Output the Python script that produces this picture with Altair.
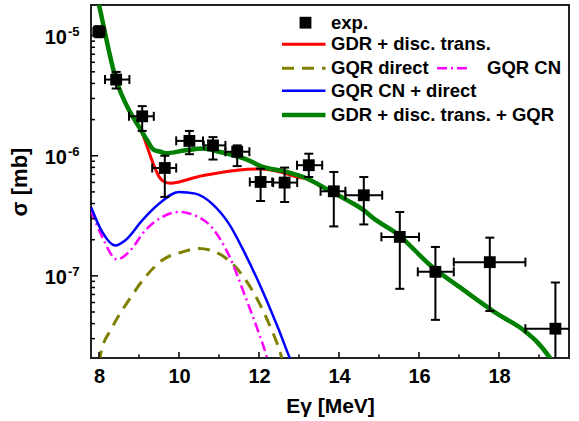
import altair as alt
import pandas as pd

FONT = "Liberation Sans"
W, H = 478, 353

# ---------------- data ----------------
# experimental points
exp_x    = [8.0, 8.43, 9.08, 9.645, 10.26, 10.85, 11.455, 12.04, 12.64, 13.245, 13.87, 14.62, 15.52, 16.41, 17.77, 19.41]
exp_y    = [1.08e-5, 4.31e-6, 2.13e-6, 7.91e-7, 1.33e-6, 1.22e-6, 1.08e-6, 6.05e-7, 5.98e-7, 8.34e-7, 5.06e-7, 4.69e-7, 2.11e-7, 1.08e-7, 1.30e-7, 3.63e-8]
exp_x_lo = [7.86, 8.15, 8.75, 9.33, 9.93, 10.62, 11.16, 11.77, 12.355, 12.95, 13.54, 14.16, 15.06, 15.97, 16.87, 18.66]
exp_x_hi = [8.14, 8.76, 9.37, 9.93, 10.60, 11.16, 11.76, 12.33, 12.955, 13.58, 14.16, 15.08, 16.00, 16.87, 18.66, 20.16]
exp_y_lo = [0.97e-5, 3.63e-6, 1.61e-6, 4.54e-7, 1.03e-6, 9.3e-7, 8.2e-7, 4.2e-7, 4.12e-7, 6.65e-7, 2.58e-7, 2.68e-7, 7.8e-8, 4.3e-8, 5.1e-8, 1.5e-8]
exp_y_hi = [1.2e-5, 4.99e-6, 2.59e-6, 1.0e-6, 1.61e-6, 1.43e-6, 1.22e-6, 7.8e-7, 7.97e-7, 1.04e-6, 7.33e-7, 6.65e-7, 3.4e-7, 1.74e-7, 2.08e-7, 8.8e-8]

# GDR + disc. trans. + GQR (green)
tot_x = [7.8, 8.0, 8.43, 8.75, 9.0, 9.2, 9.37, 9.54, 9.66, 10.16, 10.6, 11.0, 11.4, 11.7, 12.04, 12.7, 13.2, 13.7, 14.2, 14.62, 14.87, 15.45, 16.29, 17.12, 17.95, 18.62, 18.95, 19.29, 19.5]
tot_y = [3.5e-5, 1.8e-5, 4.26e-6, 2.40e-6, 1.74e-6, 1.35e-6, 1.12e-6, 1.08e-6, 1.05e-6, 1.11e-6, 1.15e-6, 1.08e-6, 1.0e-6, 9.3e-7, 8.2e-7, 7.33e-7, 6.46e-7, 5.25e-7, 4.27e-7, 3.52e-7, 3.0e-7, 2.24e-7, 1.22e-7, 7.6e-8, 4.84e-8, 3.52e-8, 2.82e-8, 2.04e-8, 1.6e-8]

# GDR + disc. trans. (red)
gdr_x = [7.8, 8.0, 8.43, 8.75, 8.9, 9.08, 9.2, 9.3, 9.4, 9.5, 9.62, 9.79, 10.0, 10.4, 11.0, 11.5, 12.04, 12.54, 12.95, 13.2, 13.7, 14.2, 14.62, 14.87, 15.45, 16.29, 17.12, 17.95, 18.62, 18.95, 19.29, 19.5]
gdr_y = [3.5e-5, 1.8e-5, 4.26e-6, 2.38e-6, 1.98e-6, 1.55e-6, 1.20e-6, 9.6e-7, 7.9e-7, 6.7e-7, 6.1e-7, 5.9e-7, 6.05e-7, 6.6e-7, 7.2e-7, 7.6e-7, 7.76e-7, 7.33e-7, 6.65e-7, 6.4e-7, 5.2e-7, 4.25e-7, 3.5e-7, 3.0e-7, 2.24e-7, 1.22e-7, 7.6e-8, 4.84e-8, 3.52e-8, 2.82e-8, 2.04e-8, 1.6e-8]

# GQR direct (olive dashed)
dir_x = [8.0, 8.04, 8.33, 8.75, 9.16, 9.58, 10.08, 10.5, 11.0, 11.41, 11.83, 12.25, 12.54, 12.62]
dir_y = [1.9e-8, 2.24e-8, 3.72e-8, 6.3e-8, 9.8e-8, 1.35e-7, 1.58e-7, 1.69e-7, 1.53e-7, 1.19e-7, 7.6e-8, 3.98e-8, 2.24e-8, 1.8e-8]

# GQR CN (magenta dash-dot)
cn_x = [7.8, 8.08, 8.45, 8.75, 9.16, 9.58, 10.0, 10.33, 10.83, 11.25, 11.66, 12.0, 12.18, 12.25]
cn_y = [3.52e-7, 2.11e-7, 1.37e-7, 1.58e-7, 2.4e-7, 3.09e-7, 3.4e-7, 3.25e-7, 2.51e-7, 1.48e-7, 6.67e-8, 3.31e-8, 2.19e-8, 1.8e-8]

# GQR CN + direct (blue)
sum_x = [7.8, 8.08, 8.4, 8.66, 9.08, 9.5, 10.0, 10.41, 10.83, 11.25, 11.66, 12.08, 12.5, 12.76, 12.85]
sum_y = [3.74e-7, 2.32e-7, 1.79e-7, 1.98e-7, 2.9e-7, 3.98e-7, 5.0e-7, 4.84e-7, 3.98e-7, 2.71e-7, 1.51e-7, 7.6e-8, 3.52e-8, 2.11e-8, 1.8e-8]

# axis ticks / labels
x_major = [8, 10, 12, 14, 16, 18]
x_minor = [9, 11, 13, 15, 17, 19]
y_major = [1e-5, 1e-6, 1e-7]
y_major_exp = ["-5", "-6", "-7"]
y_minor = [3e-8, 4e-8, 5e-8, 6e-8, 7e-8, 8e-8, 9e-8,
           2e-7, 3e-7, 4e-7, 5e-7, 6e-7, 7e-7, 8e-7, 9e-7,
           2e-6, 3e-6, 4e-6, 5e-6, 6e-6, 7e-6, 8e-6, 9e-6]

legend_labels = ["exp.", "GDR + disc. trans.", "GQR direct", "GQR CN", "GQR CN + direct", "GDR + disc. trans. + GQR"]

# ---------------- scales ----------------
xs = alt.Scale(domain=[7.8, 19.75], nice=False, zero=False)
ys = alt.Scale(type="log", domain=[2.07e-8, 1.8e-5], nice=False)

x_axis = alt.Axis(values=x_major, format="d", title="Eγ [MeV]", grid=False, ticks=False, tickSize=0,
                  domain=False, labelFont=FONT, labelFontSize=20, labelFontWeight="bold", labelColor="black",
                  labelPadding=8, labelFlush=False, titleFont=FONT, titleFontSize=21, titleFontWeight="bold",
                  titleColor="black", titlePadding=9)
y_axis = alt.Axis(values=y_major, labels=False, grid=False, ticks=False, tickSize=0, domain=False,
                  title="σ [mb]", titleFont=FONT, titleFontSize=22, titleFontWeight="bold",
                  titleColor="black", titlePadding=60)


def X(f):
    return alt.X(f, type="quantitative", scale=xs, axis=x_axis, title="Eγ [MeV]")


def Y(f):
    return alt.Y(f, type="quantitative", scale=ys, axis=y_axis, title="σ [mb]")


df_exp = pd.DataFrame(dict(x=exp_x, y=exp_y, xlo=exp_x_lo, xhi=exp_x_hi, ylo=exp_y_lo, yhi=exp_y_hi))


def curve(xv, yv, color, width, dash=None):
    kw = dict(color=color, strokeWidth=width, clip=True, interpolate="monotone")
    if dash:
        kw["strokeDash"] = dash
    return alt.Chart(pd.DataFrame(dict(x=xv, y=yv))).mark_line(**kw).encode(x=X("x"), y=Y("y"))


layers = []
layers.append(curve(dir_x, dir_y, "#808000", 3, [12, 8]))
layers.append(curve(cn_x, cn_y, "#ff00ff", 2.5, [10, 4, 2, 4]))
layers.append(curve(sum_x, sum_y, "#0000ff", 2.5))
layers.append(curve(gdr_x, gdr_y, "#ff0000", 3))
layers.append(curve(tot_x, tot_y, "#008000", 4.5))

# error bars
eb = alt.Chart(df_exp)
layers.append(eb.mark_rule(color="black", strokeWidth=2, clip=True).encode(x=X("x"), y=Y("ylo"), y2="yhi"))
layers.append(eb.mark_rule(color="black", strokeWidth=2, clip=True).encode(x=X("xlo"), x2="xhi", y=Y("y")))
for f in ["ylo", "yhi"]:
    layers.append(eb.mark_tick(orient="horizontal", size=9, thickness=2, color="black", opacity=1, clip=True)
                  .encode(x=X("x"), y=Y(f)))
for f in ["xlo", "xhi"]:
    layers.append(eb.mark_tick(orient="vertical", size=9, thickness=2, color="black", opacity=1, clip=True)
                  .encode(x=X(f), y=Y("y")))
layers.append(eb.mark_square(size=140, color="black", opacity=1, clip=True)
              .encode(x=X("x"), y=Y("y")))

# inward ticks
layers.append(alt.Chart(pd.DataFrame(dict(v=x_major))).mark_rule(color="black", strokeWidth=1.5)
              .encode(x=X("v"), y=alt.value(H), y2=alt.value(H - 6)))
layers.append(alt.Chart(pd.DataFrame(dict(v=x_minor))).mark_rule(color="black", strokeWidth=1.5)
              .encode(x=X("v"), y=alt.value(H), y2=alt.value(H - 3.5)))
layers.append(alt.Chart(pd.DataFrame(dict(v=y_major))).mark_rule(color="black", strokeWidth=1.5)
              .encode(y=Y("v"), x=alt.value(0), x2=alt.value(7)))
layers.append(alt.Chart(pd.DataFrame(dict(v=y_minor))).mark_rule(color="black", strokeWidth=1.5)
              .encode(y=Y("v"), x=alt.value(0), x2=alt.value(4)))

# y tick labels 10^n
df_ylab = pd.DataFrame(dict(v=y_major, e=y_major_exp))
layers.append(alt.Chart(df_ylab).mark_text(align="right", baseline="middle", dy=2.5, font=FONT, fontSize=20,
                                           fontWeight="bold", color="black")
              .encode(y=Y("v"), x=alt.value(-24), text=alt.value("10")))
layers.append(alt.Chart(df_ylab).mark_text(align="left", baseline="middle", dy=-4, font=FONT, fontSize=13,
                                           fontWeight="bold", color="black")
              .encode(y=Y("v"), x=alt.value(-23), text="e:N"))

# legend
one = pd.DataFrame(dict(a=[0]))


def leg_text(label, x, y):
    return alt.Chart(one).mark_text(align="left", baseline="middle", font=FONT, fontSize=18.5,
                                    fontWeight="bold", color="black", text=label
                                    ).encode(x=alt.value(x), y=alt.value(y))


def leg_line(x1, x2, y, color, width, dash=None):
    kw = dict(color=color, strokeWidth=width)
    if dash:
        kw["strokeDash"] = dash
    return alt.Chart(one).mark_rule(**kw).encode(x=alt.value(x1), x2=alt.value(x2), y=alt.value(y))


layers.append(alt.Chart(one).mark_square(size=140, color="black", opacity=1)
              .encode(x=alt.value(214.5), y=alt.value(17.7)))
layers.append(leg_text(legend_labels[0], 240, 17.7))
layers.append(leg_line(191, 234.5, 39.3, "#ff0000", 3))
layers.append(leg_text(legend_labels[1], 240, 39.3))
layers.append(leg_line(191, 234.5, 63.3, "#808000", 3, [12, 8]))
layers.append(leg_text(legend_labels[2], 240, 63.3))
layers.append(leg_line(346, 376, 63.3, "#ff00ff", 2.5, [10, 4, 2, 4]))
layers.append(leg_text(legend_labels[3], 396, 63.3))
layers.append(leg_line(191, 234.5, 85.7, "#0000ff", 2.5))
layers.append(leg_text(legend_labels[4], 240, 85.7))
layers.append(leg_line(191, 234.5, 110, "#008000", 4.5))
layers.append(leg_text(legend_labels[5], 240, 110))

chart = alt.layer(*layers).properties(
    width=W, height=H,
    autosize=alt.AutoSizeParams(type="none"),
    padding={"left": 91, "top": 5, "right": 10, "bottom": 63},
    background="white",
).configure_view(stroke="#222222", strokeWidth=2)

chart.save("out.html", embed_options={"renderer": "svg", "actions": False})
